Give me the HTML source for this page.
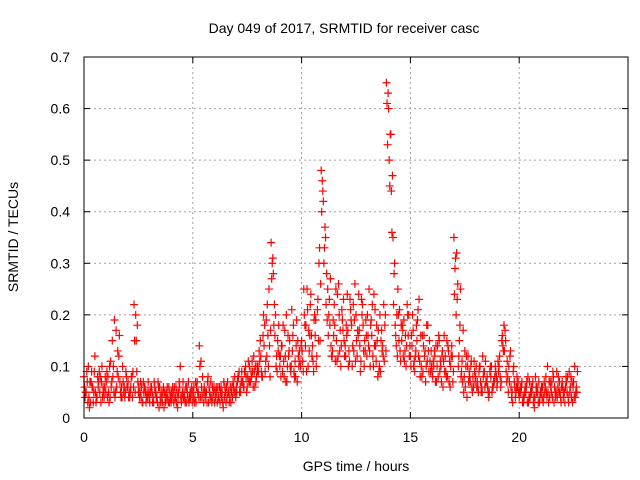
<!DOCTYPE html>
<html><head><meta charset="utf-8">
<style>
html,body{margin:0;padding:0;background:#fff;}
svg{display:block;font-family:"Liberation Sans",sans-serif;}
</style></head>
<body>
<svg id="chart" width="640" height="480" viewBox="0 0 640 480" xmlns="http://www.w3.org/2000/svg">
<rect x="0" y="0" width="640" height="480" fill="#fff"/>
<text x="344" y="33" font-size="14" text-anchor="middle" fill="#000">Day 049 of 2017, SRMTID for receiver casc</text>
<text transform="translate(18,237) rotate(-90)" font-size="14" text-anchor="middle" fill="#000">SRMTID / TECUs</text>
<text x="356" y="471" font-size="14" text-anchor="middle" fill="#000">GPS time / hours</text>
<g id="grid"></g>
<g id="ticks"></g>
<g id="points"></g>
<rect x="84" y="57" width="544" height="361" fill="none" stroke="#000" stroke-width="1"/>
</svg>
<script>
const xTicks = [0, 5, 10, 15, 20];
const yTicks = [0, 0.1, 0.2, 0.3, 0.4, 0.5, 0.6, 0.7];
const yTickLabels = ["0", "0.1", "0.2", "0.3", "0.4", "0.5", "0.6", "0.7"];
const sampleStepHours = 0.1;
const seriesAStart = 0.0;
const seriesBStart = 0.05;
const seriesCStart = 0.025;
const seriesDStart = 0.075;
const seriesA = [
0.08,0.05,0.10,0.03,0.06,0.12,0.04,0.09,0.07,0.05,
0.05,0.08,0.04,0.15,0.19,0.06,0.12,0.04,0.07,0.05,
0.06,0.04,0.08,0.22,0.15,0.05,0.07,0.03,0.06,0.05,
0.04,0.06,0.03,0.05,0.07,0.04,0.03,0.05,0.04,0.06,
0.03,0.05,0.04,0.02,0.06,0.04,0.05,0.03,0.07,0.04,
0.05,0.04,0.07,0.14,0.06,0.03,0.05,0.08,0.04,0.06,
0.03,0.05,0.04,0.06,0.02,0.05,0.07,0.04,0.06,0.05,
0.06,0.08,0.05,0.07,0.09,0.06,0.10,0.08,0.12,0.07,
0.10,0.15,0.08,0.18,0.12,0.25,0.34,0.28,0.20,0.15,
0.10,0.14,0.08,0.20,0.12,0.09,0.16,0.11,0.07,0.13,
0.15,0.25,0.18,0.10,0.22,0.14,0.20,0.12,0.30,0.48,
0.42,0.35,0.25,0.18,0.12,0.22,0.15,0.26,0.10,0.17,
0.14,0.24,0.11,0.18,0.13,0.20,0.16,0.09,0.22,0.15,
0.12,0.25,0.19,0.10,0.14,0.08,0.20,0.13,0.11,0.65,
0.60,0.55,0.35,0.18,0.12,0.21,0.15,0.19,0.10,0.16,
0.12,0.20,0.09,0.15,0.23,0.10,0.14,0.07,0.18,0.11,
0.09,0.13,0.07,0.16,0.10,0.06,0.12,0.08,0.11,0.14,
0.35,0.20,0.10,0.25,0.07,0.13,0.04,0.09,0.11,0.06,
0.08,0.06,0.10,0.05,0.09,0.07,0.04,0.08,0.06,0.10,
0.07,0.12,0.15,0.18,0.09,0.05,0.13,0.03,0.06,0.08,
0.04,0.06,0.03,0.05,0.08,0.04,0.06,0.02,0.05,0.07,
0.05,0.03,0.06,0.10,0.04,0.07,0.03,0.05,0.08,0.04,
0.06,0.03,0.05,0.09,0.04,0.07,0.05
];
const seriesB = [
0.04,0.07,0.02,0.09,0.05,0.03,0.06,0.08,0.04,0.06,
0.09,0.03,0.06,0.10,0.05,0.13,0.07,0.04,0.06,0.08,
0.04,0.06,0.09,0.05,0.18,0.04,0.06,0.05,0.03,0.07,
0.05,0.03,0.06,0.04,0.02,0.05,0.06,0.03,0.04,0.05,
0.04,0.06,0.03,0.05,0.04,0.07,0.03,0.05,0.04,0.06,
0.06,0.03,0.05,0.04,0.08,0.05,0.03,0.06,0.04,0.05,
0.04,0.06,0.03,0.05,0.04,0.06,0.05,0.03,0.07,0.05,
0.07,0.05,0.09,0.06,0.08,0.11,0.07,0.09,0.06,0.10,
0.13,0.09,0.20,0.11,0.16,0.08,0.30,0.22,0.12,0.18,
0.08,0.18,0.12,0.10,0.15,0.21,0.09,0.14,0.12,0.10,
0.11,0.18,0.25,0.13,0.16,0.09,0.19,0.23,0.15,0.46,
0.33,0.28,0.20,0.14,0.19,0.11,0.24,0.13,0.21,0.15,
0.18,0.10,0.21,0.14,0.26,0.12,0.17,0.23,0.13,0.19,
0.16,0.10,0.22,0.14,0.18,0.09,0.15,0.12,0.20,0.53,
0.45,0.36,0.28,0.14,0.20,0.11,0.17,0.13,0.22,0.12,
0.16,0.10,0.13,0.21,0.08,0.16,0.12,0.18,0.09,0.13,
0.11,0.07,0.14,0.09,0.12,0.16,0.08,0.13,0.10,0.07,
0.29,0.23,0.15,0.09,0.05,0.10,0.12,0.07,0.05,0.09,
0.06,0.09,0.05,0.08,0.11,0.06,0.09,0.05,0.07,0.08,
0.09,0.06,0.14,0.17,0.11,0.07,0.04,0.10,0.05,0.07,
0.06,0.03,0.05,0.07,0.04,0.06,0.03,0.08,0.05,0.04,
0.04,0.07,0.05,0.03,0.06,0.09,0.05,0.04,0.07,0.06,
0.05,0.08,0.04,0.06,0.03,0.10,0.05
];
const seriesC = [
0.06,0.09,0.04,0.07,0.03,0.05,0.08,0.05,0.10,0.04,
0.07,0.05,0.11,0.08,0.04,0.09,0.16,0.06,0.05,0.09,
0.07,0.05,0.04,0.15,0.09,0.06,0.04,0.07,0.05,0.04,
0.03,0.05,0.07,0.04,0.06,0.03,0.05,0.04,0.06,0.03,
0.05,0.03,0.06,0.04,0.10,0.05,0.04,0.06,0.03,0.05,
0.04,0.07,0.05,0.10,0.04,0.06,0.05,0.03,0.07,0.04,
0.05,0.03,0.06,0.04,0.07,0.03,0.05,0.06,0.04,0.08,
0.05,0.09,0.07,0.06,0.10,0.08,0.07,0.11,0.09,0.08,
0.09,0.12,0.16,0.09,0.22,0.14,0.27,0.18,0.10,0.13,
0.12,0.09,0.17,0.07,0.13,0.10,0.18,0.08,0.15,0.11,
0.13,0.20,0.09,0.17,0.24,0.11,0.16,0.21,0.33,0.40,
0.30,0.22,0.16,0.27,0.13,0.18,0.11,0.20,0.14,0.23,
0.12,0.17,0.23,0.10,0.19,0.15,0.24,0.11,0.18,0.13,
0.20,0.13,0.16,0.24,0.11,0.17,0.09,0.14,0.18,0.61,
0.50,0.44,0.22,0.16,0.25,0.13,0.18,0.11,0.14,0.20,
0.10,0.17,0.12,0.19,0.11,0.08,0.16,0.10,0.13,0.09,
0.08,0.12,0.10,0.15,0.07,0.11,0.09,0.14,0.06,0.12,
0.24,0.32,0.12,0.08,0.17,0.06,0.10,0.08,0.06,0.11,
0.10,0.05,0.07,0.12,0.06,0.08,0.05,0.10,0.07,0.09,
0.11,0.08,0.16,0.13,0.07,0.10,0.06,0.09,0.04,0.06,
0.05,0.07,0.04,0.06,0.03,0.05,0.07,0.04,0.06,0.03,
0.06,0.04,0.08,0.05,0.07,0.04,0.06,0.09,0.05,0.03,
0.04,0.06,0.08,0.05,0.07,0.04,0.06
];
const seriesD = [
0.05,0.03,0.07,0.06,0.09,0.04,0.07,0.03,0.06,0.08,
0.04,0.10,0.07,0.05,0.17,0.08,0.05,0.10,0.04,0.06,
0.05,0.08,0.06,0.20,0.07,0.05,0.03,0.06,0.04,0.05,
0.06,0.04,0.05,0.03,0.06,0.04,0.02,0.05,0.03,0.04,
0.06,0.04,0.05,0.07,0.03,0.04,0.06,0.04,0.05,0.03,
0.03,0.06,0.04,0.11,0.05,0.04,0.07,0.05,0.03,0.06,
0.06,0.04,0.05,0.03,0.06,0.04,0.03,0.05,0.06,0.04,
0.08,0.06,0.07,0.09,0.05,0.07,0.09,0.06,0.10,0.09,
0.11,0.08,0.14,0.19,0.10,0.17,0.31,0.16,0.09,0.12,
0.14,0.11,0.07,0.16,0.10,0.13,0.08,0.19,0.10,0.14,
0.09,0.14,0.21,0.16,0.12,0.19,0.10,0.15,0.26,0.44,
0.37,0.19,0.23,0.12,0.16,0.25,0.12,0.17,0.19,0.12,
0.16,0.13,0.19,0.22,0.11,0.17,0.14,0.20,0.10,0.16,
0.14,0.18,0.12,0.21,0.15,0.10,0.17,0.22,0.13,0.63,
0.55,0.47,0.30,0.20,0.15,0.18,0.12,0.16,0.20,0.14,
0.14,0.11,0.18,0.12,0.16,0.09,0.13,0.11,0.15,0.10,
0.10,0.14,0.08,0.11,0.13,0.09,0.15,0.07,0.12,0.09,
0.31,0.26,0.18,0.11,0.08,0.12,0.07,0.10,0.08,0.07,
0.07,0.10,0.06,0.09,0.07,0.05,0.10,0.06,0.08,0.06,
0.10,0.07,0.13,0.15,0.08,0.12,0.05,0.07,0.06,0.05,
0.05,0.04,0.06,0.03,0.07,0.05,0.04,0.06,0.03,0.05,
0.06,0.05,0.04,0.07,0.05,0.08,0.04,0.06,0.05,0.07,
0.05,0.07,0.03,0.08,0.06,0.04,0.09
];

const NS = "http://www.w3.org/2000/svg";
const L = 84, R = 628, T = 57, B = 418;
const xMin = 0, xMax = 25, yMin = 0, yMax = 0.7;
function xs(v){ return L + (v - xMin) / (xMax - xMin) * (R - L); }
function ys(v){ return B - (v - yMin) / (yMax - yMin) * (B - T); }
function mk(tag, attrs){ const e = document.createElementNS(NS, tag); for (const k in attrs) e.setAttribute(k, attrs[k]); return e; }

const grid = document.getElementById('grid');
const ticks = document.getElementById('ticks');
yTicks.forEach((v, i) => {
  const y = ys(v);
  if (v > yMin && v < yMax) {
    const g = mk('line', {x1: L, x2: R, y1: y, y2: y, stroke: '#a0a0a0', 'stroke-width': 1, 'stroke-dasharray': '2,3'});
    
    
    grid.appendChild(g);
  }
  const t1 = mk('line', {x1: L, x2: L + 6, y1: y, y2: y, stroke: '#000'});
  
  
  ticks.appendChild(t1);
  const t2 = mk('line', {x1: R - 6, x2: R, y1: y, y2: y, stroke: '#000'});
  
  
  ticks.appendChild(t2);
  const lb = mk('text', {x: L - 14, y: y + 5, 'font-size': 14, 'text-anchor': 'end', fill: '#000'});
  lb.textContent = yTickLabels[i];
  
  
  ticks.appendChild(lb);
});
xTicks.forEach(v => {
  const x = xs(v);
  if (v > xMin) {
    const g = mk('line', {x1: x, x2: x, y1: T, y2: B, stroke: '#a0a0a0', 'stroke-width': 1, 'stroke-dasharray': '2,3'});
    
    
    grid.appendChild(g);
  }
  const t1 = mk('line', {x1: x, x2: x, y1: B, y2: B - 6, stroke: '#000'});
  
  
  ticks.appendChild(t1);
  const t2 = mk('line', {x1: x, x2: x, y1: T, y2: T + 6, stroke: '#000'});
  
  
  ticks.appendChild(t2);
  const lb = mk('text', {x: x, y: B + 24, 'font-size': 14, 'text-anchor': 'middle', fill: '#000'});
  lb.textContent = String(v);
  
  
  ticks.appendChild(lb);
});

const pts = document.getElementById('points');
function plotSeries(vals, start){
  vals.forEach((v, i) => {
    const x = xs(start + i * sampleStepHours), y = ys(v);
    const p = mk('path', {d: `M${x-4},${y}H${x+4}M${x},${y-4}V${y+4}`, stroke: '#ff0000', 'stroke-width': 1.2, fill: 'none'});
    
    
    pts.appendChild(p);
  });
}
plotSeries(seriesA, seriesAStart);
plotSeries(seriesB, seriesBStart);
plotSeries(seriesC, seriesCStart);
plotSeries(seriesD, seriesDStart);
</script>
</body></html>
